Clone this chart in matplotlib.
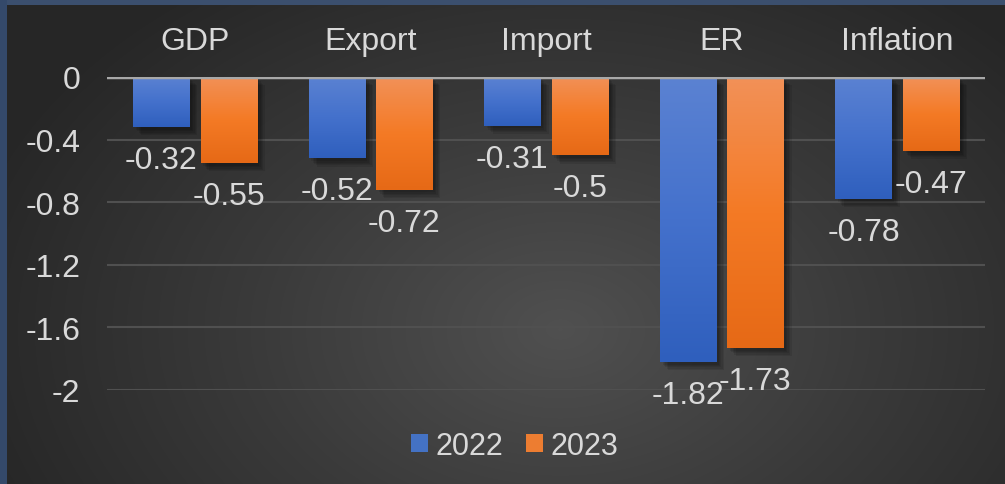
import numpy as np
import matplotlib
matplotlib.use("Agg")
import matplotlib.pyplot as plt
from matplotlib.patches import Patch, Rectangle
from matplotlib.colors import LinearSegmentedColormap
import matplotlib.patheffects as pe

plt.rcParams['font.family'] = ['Liberation Sans', 'DejaVu Sans']

categories = ["GDP", "Export", "Import", "ER", "Inflation"]
series_names = ["2022", "2023"]
values_2022 = [-0.32, -0.52, -0.31, -1.82, -0.78]
values_2023 = [-0.55, -0.72, -0.50, -1.73, -0.47]
y_ticks = [0, -0.4, -0.8, -1.2, -1.6, -2]
y_tick_labels = ["0", "-0.4", "-0.8", "-1.2", "-1.6", "-2"]

W, H, DPI = 1005, 485, 100
TEXT = "#d9d9d9"
FS = 23
fig = plt.figure(figsize=(W / DPI, H / DPI), dpi=DPI)

# radial background
bg = fig.add_axes([0, 0, 1, 1], zorder=-10)
yy, xx = np.mgrid[0:H, 0:W]
r = np.sqrt(((xx - 560) / 620.0) ** 2 + ((yy - 330) / 430.0) ** 2)
r = np.clip(r, 0, 1)
bg_cmap = LinearSegmentedColormap.from_list("bg", ["#505050", "#3a3a3a", "#262626"])
bg.imshow(r, cmap=bg_cmap, vmin=0, vmax=1, extent=[0, W, H, 0], aspect="auto")
bg.set_xlim(0, W)
bg.set_ylim(H, 0)
bg.axis("off")
# frame edges
bg.add_patch(Rectangle((0, 0), W, 6, color="#3b4f6e", lw=0))
bg.add_patch(Rectangle((0, 0), 7, H, color="#34496a", lw=0))

ax = fig.add_axes([107 / W, 1 - 391 / H, (985 - 107) / W, (391 - 78) / H])
ax.patch.set_alpha(0)
ax.set_xlim(-0.5, len(categories) - 0.5)
ax.set_ylim(-2, 0)
for s in ax.spines.values():
    s.set_visible(False)

for t in y_ticks[1:]:
    ax.axhline(t, color="#505050", lw=1.5, zorder=1)
ax.axhline(0, color="#a8a8a8", lw=2.5, zorder=4)

ax.set_yticks(y_ticks)
ax.set_yticklabels(y_tick_labels)
ax.tick_params(axis="y", length=0, pad=19, labelsize=FS, labelcolor=TEXT)
ax.xaxis.tick_top()
ax.set_xticks(range(len(categories)))
ax.set_xticklabels(categories)
ax.tick_params(axis="x", length=0, pad=15, labelsize=FS, labelcolor=TEXT)

x = np.arange(len(categories))
bw = 0.319
off = 0.192

blue_cmap = LinearSegmentedColormap.from_list("b", ["#5b82d2", "#4471cc", "#2f5fbd"])
orange_cmap = LinearSegmentedColormap.from_list("o", ["#f29158", "#f47a25", "#e66916"])
grad = np.linspace(0, 1, 256).reshape(-1, 1)

# soft drop shadow built from several faint offset copies
shadow = [pe.SimplePatchShadow(offset=(o, -o), shadow_rgbFace="black", alpha=0.09)
          for o in (6, 5, 4, 3, 2)] + [pe.Normal()]

for vals, dx, cm, c in [(values_2022, -off, blue_cmap, "#4472c4"),
                        (values_2023, off, orange_cmap, "#ed7d31")]:
    bars = ax.bar(x + dx, vals, width=bw, color=c, zorder=3)
    for b, v in zip(bars, vals):
        b.set_path_effects(shadow)
        x0, y0 = b.get_x(), b.get_y()
        im = ax.imshow(grad, cmap=cm, aspect="auto", zorder=3.5,
                       extent=[x0, x0 + b.get_width(), y0 + b.get_height(), y0],
                       origin="upper")
        im.set_clip_path(b)
        ax.annotate(f"{v:g}", (b.get_x() + b.get_width() / 2, v),
                    xytext=(0, -33), textcoords="offset pixels",
                    ha="center", va="center", fontsize=FS, color=TEXT,
                    zorder=6, annotation_clip=False)
ax.set_xlim(-0.5, len(categories) - 0.5)
ax.set_ylim(-2, 0)

handles = [Patch(facecolor="#4472c4", edgecolor="none"),
           Patch(facecolor="#ed7d31", edgecolor="none")]
fig.legend(handles, series_names, loc="center", bbox_to_anchor=(515 / W, 1 - 447 / H),
           ncol=2, frameon=False, fontsize=22, labelcolor=TEXT,
           handlelength=0.55, handleheight=0.55, handletextpad=0.25, columnspacing=0.75)

fig.savefig("out.png", dpi=DPI)
